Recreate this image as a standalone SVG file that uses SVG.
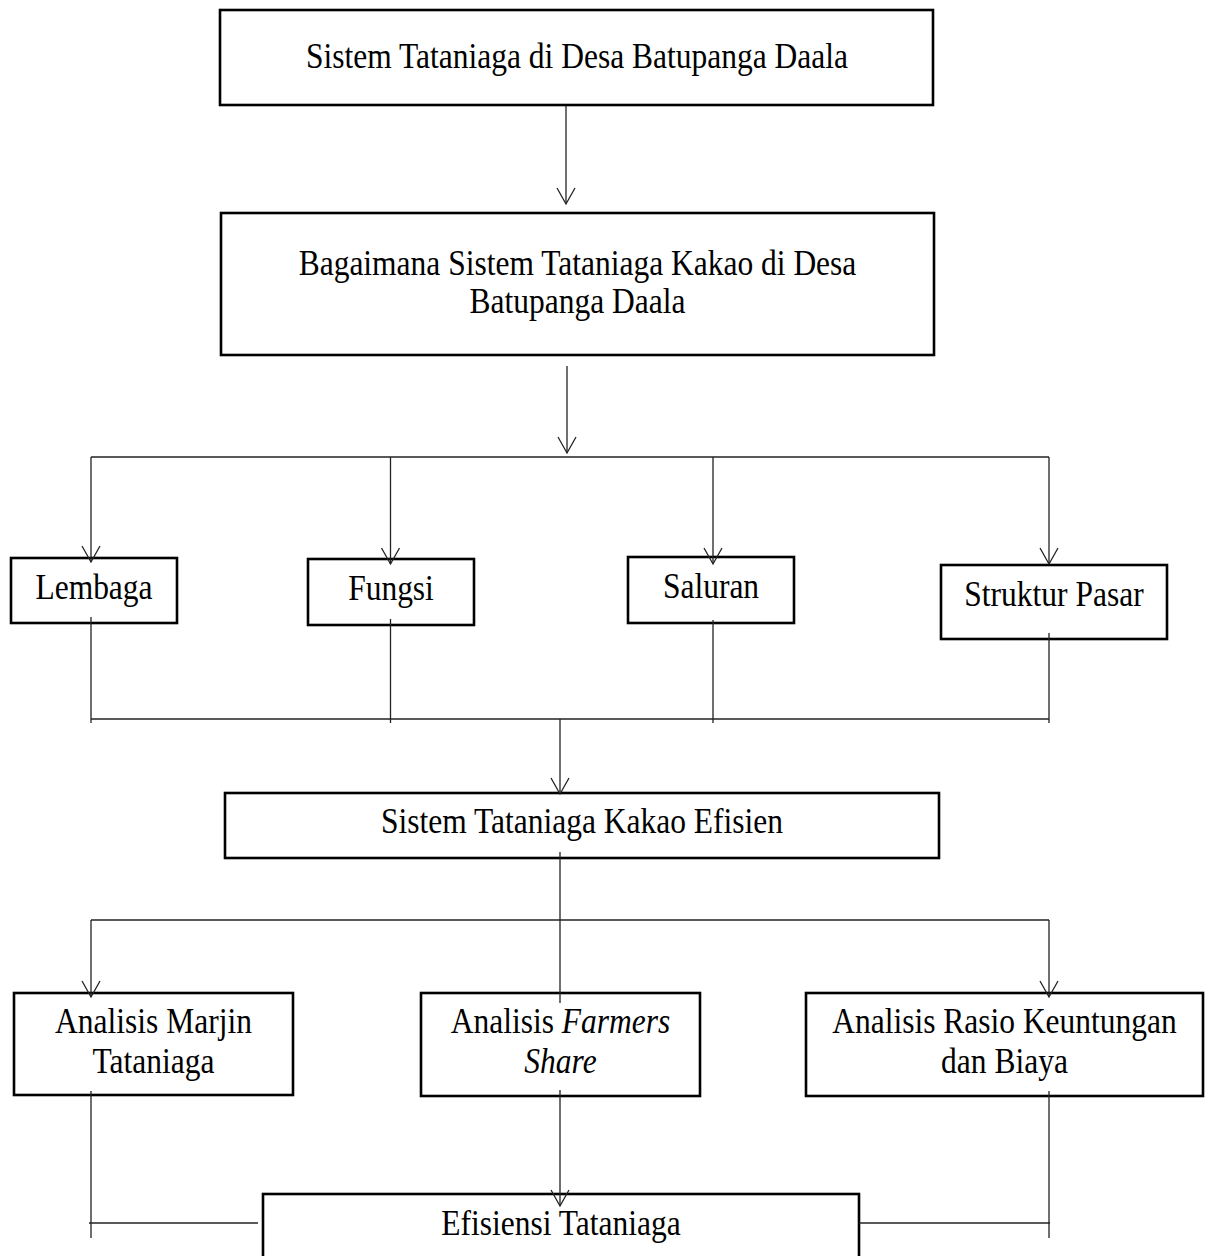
<svg xmlns="http://www.w3.org/2000/svg" width="1208" height="1256" viewBox="0 0 1208 1256">
<defs>
<style>
.box{fill:#fff;stroke:#000;stroke-width:2.6}
.t{font-family:"Liberation Serif","Times New Roman",serif;font-size:35px;fill:#000;text-anchor:middle}
.c{fill:none;stroke:#222;stroke-width:1.3}
</style>
<marker id="arr" markerUnits="userSpaceOnUse" orient="auto" markerWidth="40" markerHeight="40" refX="0" refY="0" viewBox="-20 -20 40 40" overflow="visible">
<path d="M-16,-9 L0,0 L-16,9" fill="none" stroke="#222" stroke-width="1.3"/>
</marker>
</defs>
<rect width="1208" height="1256" fill="#fff"/>
<g id="n1"><rect class="box" x="220" y="10" width="713" height="95"/><text class="t" transform="translate(577 68) scale(0.9 1)">Sistem Tataniaga di Desa Batupanga Daala</text></g>
<g id="n2"><rect class="box" x="221" y="213" width="713" height="142"/><text class="t" transform="translate(577.5 275) scale(0.9 1)">Bagaimana Sistem Tataniaga Kakao di Desa</text><text class="t" transform="translate(577.5 313) scale(0.9 1)">Batupanga Daala</text></g>
<g id="n3"><rect class="box" x="11" y="558" width="166" height="65"/><text class="t" transform="translate(94 599) scale(0.9 1)">Lembaga</text></g>
<g id="n4"><rect class="box" x="308" y="559" width="166" height="66"/><text class="t" transform="translate(391 600) scale(0.9 1)">Fungsi</text></g>
<g id="n5"><rect class="box" x="628" y="557" width="166" height="66"/><text class="t" transform="translate(711 598) scale(0.9 1)">Saluran</text></g>
<g id="n6"><rect class="box" x="941" y="565" width="226" height="74"/><text class="t" transform="translate(1054 606) scale(0.9 1)">Struktur Pasar</text></g>
<g id="n7"><rect class="box" x="225" y="793" width="714" height="65"/><text class="t" transform="translate(582 833) scale(0.9 1)">Sistem Tataniaga Kakao Efisien</text></g>
<g id="n8"><rect class="box" x="14" y="993" width="279" height="102"/><text class="t" transform="translate(153.5 1033) scale(0.9 1)">Analisis Marjin</text><text class="t" transform="translate(153.5 1073) scale(0.9 1)">Tataniaga</text></g>
<g id="n9"><rect class="box" x="421" y="993" width="279" height="103"/><text class="t" transform="translate(560.5 1033) scale(0.9 1)">Analisis <tspan font-style="italic">Farmers</tspan></text><text class="t" font-style="italic" transform="translate(560.5 1073) scale(0.9 1)">Share</text></g>
<g id="n10"><rect class="box" x="806" y="993" width="397" height="103"/><text class="t" transform="translate(1004.5 1033) scale(0.9 1)">Analisis Rasio Keuntungan</text><text class="t" transform="translate(1004.5 1073) scale(0.9 1)">dan Biaya</text></g>
<g id="n11"><rect class="box" x="263" y="1194" width="596" height="90"/><text class="t" transform="translate(561 1235) scale(0.9 1)">Efisiensi Tataniaga</text></g>
<g id="connectors">
<line class="c" x1="566" y1="106" x2="566" y2="204" marker-end="url(#arr)"/>
<line class="c" x1="567" y1="366" x2="567" y2="453" marker-end="url(#arr)"/>
<line class="c" x1="91" y1="457" x2="1049" y2="457"/>
<line class="c" x1="91" y1="457" x2="91" y2="562" marker-end="url(#arr)"/>
<line class="c" x1="390.5" y1="457" x2="390.5" y2="564" marker-end="url(#arr)"/>
<line class="c" x1="713" y1="457" x2="713" y2="564" marker-end="url(#arr)"/>
<line class="c" x1="1049" y1="457" x2="1049" y2="564" marker-end="url(#arr)"/>
<line class="c" x1="91" y1="617" x2="91" y2="723"/>
<line class="c" x1="390.5" y1="619" x2="390.5" y2="723"/>
<line class="c" x1="713" y1="620" x2="713" y2="723"/>
<line class="c" x1="1049" y1="633" x2="1049" y2="723"/>
<line class="c" x1="91" y1="719" x2="1049" y2="719"/>
<line class="c" x1="560" y1="719" x2="560" y2="794" marker-end="url(#arr)"/>
<line class="c" x1="560" y1="852" x2="560" y2="1003"/>
<line class="c" x1="91" y1="920" x2="1049" y2="920"/>
<line class="c" x1="91" y1="920" x2="91" y2="997" marker-end="url(#arr)"/>
<line class="c" x1="1049" y1="920" x2="1049" y2="997" marker-end="url(#arr)"/>
<line class="c" x1="91" y1="1091" x2="91" y2="1238"/>
<line class="c" x1="89" y1="1223" x2="258" y2="1223"/>
<line class="c" x1="560" y1="1090" x2="560" y2="1206" marker-end="url(#arr)"/>
<line class="c" x1="1049" y1="1091" x2="1049" y2="1238"/>
<line class="c" x1="859" y1="1223" x2="1050" y2="1223"/>
</g>
</svg>
